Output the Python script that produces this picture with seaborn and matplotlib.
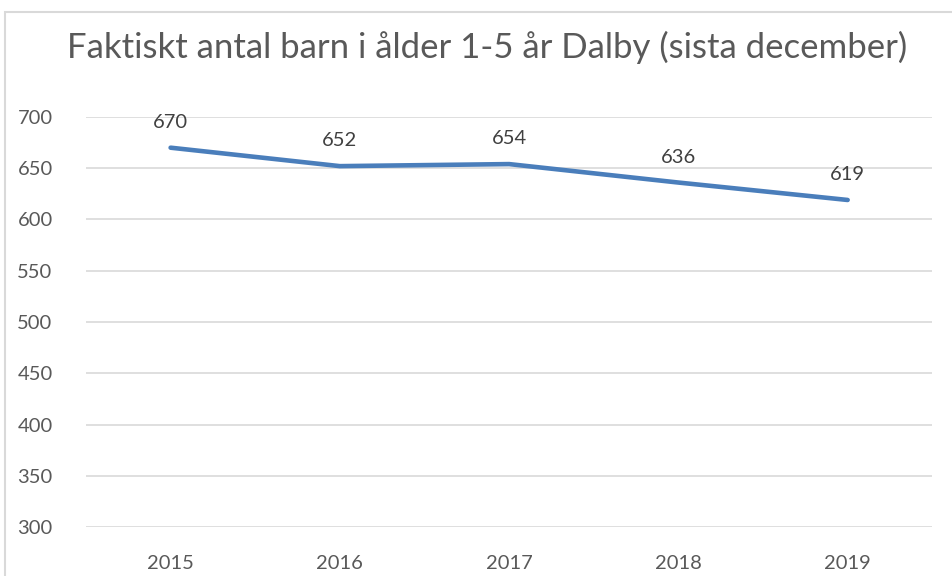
import matplotlib
matplotlib.use("Agg")
import matplotlib.pyplot as plt
import seaborn as sns
import pandas as pd
from matplotlib.patches import Rectangle

years = ["2015", "2016", "2017", "2018", "2019"]
barn = [670, 652, 654, 636, 619]
titel = "Faktiskt antal barn i ålder 1-5 år Dalby (sista december)"

sns.set_style("white")
plt.rcParams["font.family"] = ["Lato", "DejaVu Sans"]

df = pd.DataFrame({"År": years, "Antal": barn})

fig = plt.figure(figsize=(9.52, 5.76), dpi=100)
ax = fig.add_axes([0.0903, 0.085, 0.889, 0.712])

sns.lineplot(data=df, x="År", y="Antal", ax=ax, color="#4a7ebb", linewidth=3.3,
             sort=False, solid_capstyle="round")

for i, v in enumerate(barn):
    ax.annotate(f"{v}", (i, v), xytext=(0, 12), textcoords="offset points",
                ha="center", va="bottom", fontsize=14.5, color="#404040")

ax.set_ylim(300, 700)
ax.set_xlim(-0.5, len(years) - 0.5)
ax.set_yticks(range(300, 701, 50))
ax.yaxis.grid(True, color="#d9d9d9", linewidth=1.2)
ax.set_axisbelow(True)
for s in ax.spines.values():
    s.set_visible(False)
ax.tick_params(axis="both", length=0, labelsize=14.5, labelcolor="#595959")
ax.tick_params(axis="x", pad=20)
ax.tick_params(axis="y", pad=24)
ax.set_xlabel("")
ax.set_ylabel("")

fig.text(0.512, 0.917, titel, ha="center", va="center", fontsize=25, color="#595959")

# chart border
fig.patches.append(Rectangle((5 / 952, -0.1), 2, 1.1 - 12 / 576, transform=fig.transFigure,
                             fill=False, edgecolor="#d9d9d9", linewidth=1.5))

fig.savefig("out.png", dpi=100)
